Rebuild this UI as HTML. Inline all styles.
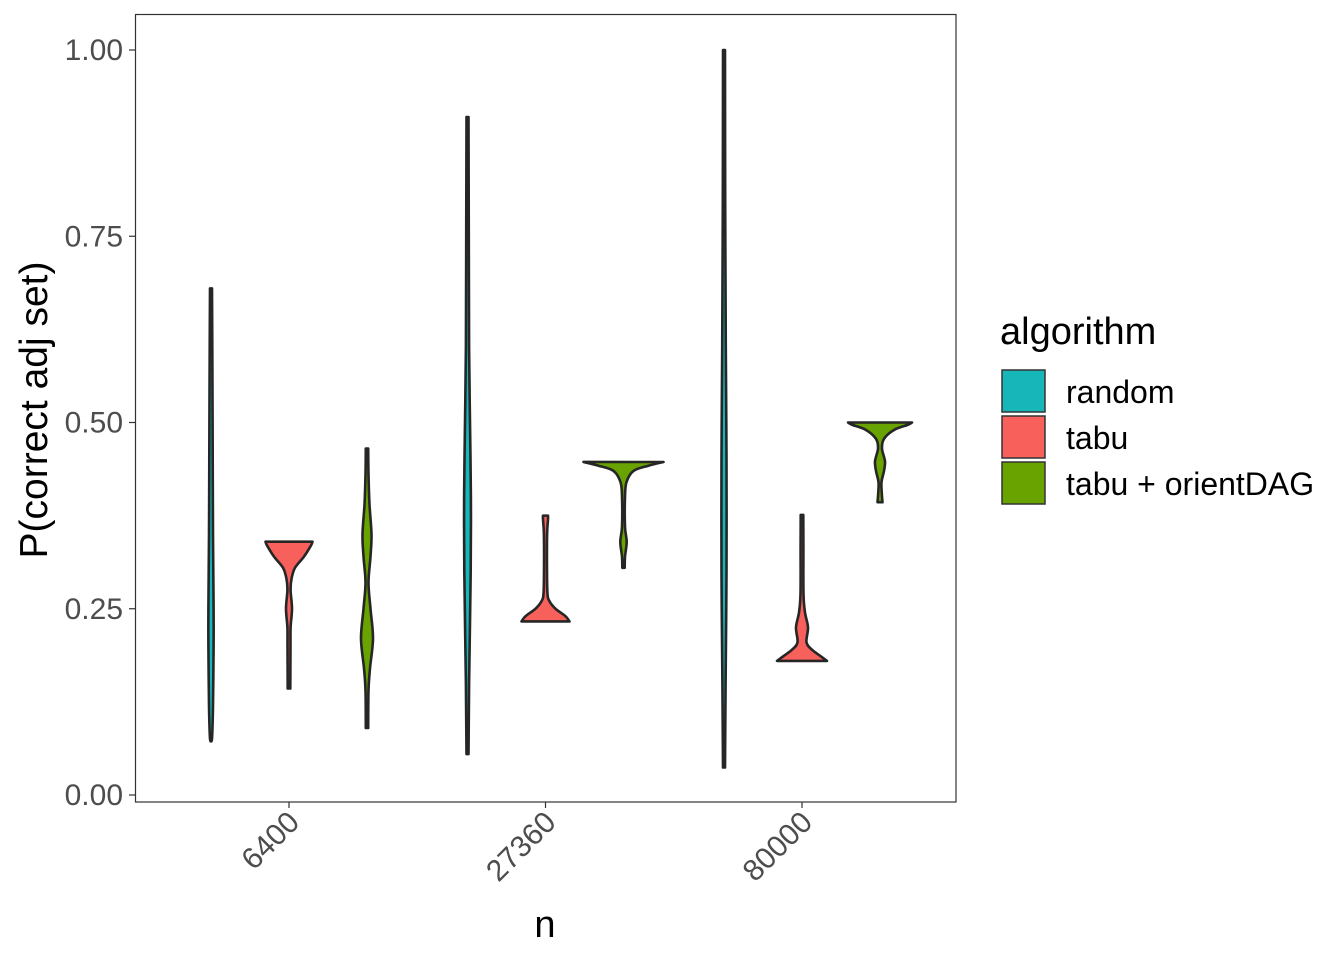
<!DOCTYPE html>
<html><head><meta charset="utf-8"><style>
body{margin:0;background:#fff}
svg{font-family:"Liberation Sans",Arial,sans-serif}
</style></head><body>
<svg width="1344" height="960" viewBox="0 0 1344 960">
<rect x="0" y="0" width="1344" height="960" fill="#fff"/>
<g id="marks"></g>
<rect x="135.5" y="14.5" width="820.5" height="787.5" fill="none" stroke="#333" stroke-width="1.2"/>
<g id="axes"></g>
<text x="0" y="0" transform="translate(47,410) rotate(-90)" text-anchor="middle" font-size="39" fill="#000">P(correct adj set)</text>
<text x="545" y="937" text-anchor="middle" font-size="38" fill="#000">n</text>
<g>
<text x="1000" y="344" font-size="38" fill="#000">algorithm</text>
<g><rect x="1002" y="370" width="43" height="42" fill="#17b6b9" stroke="#333" stroke-width="1.5"/><text x="1066" y="403" font-size="32">random</text></g>
<g><rect x="1002" y="416" width="43" height="42" fill="#f8605c" stroke="#333" stroke-width="1.5"/><text x="1066" y="449" font-size="32">tabu</text></g>
<g><rect x="1002" y="462" width="43" height="42" fill="#69a300" stroke="#333" stroke-width="1.5"/><text x="1066" y="495" font-size="32">tabu + orientDAG</text></g>
</g>
</svg>
<script>
const categories = ["6400","27360","80000"];
const algorithms = ["random","tabu","tabu + orientDAG"];
const colors = ["#17b6b9","#f8605c","#69a300"];
const yTicks = [0,0.25,0.5,0.75,1.0];
const yTickLabels = ["0.00","0.25","0.50","0.75","1.00"];
// violin profiles: [value, half-width density]
const v6400random = [[0.072,0.5],[0.08,1.2],[0.12,2],[0.2,2.6],[0.25,2.6],[0.35,2],[0.5,1.6],[0.6,1.3],[0.68,1]];
const v6400tabu = [[0.143,1.3],[0.2,1.5],[0.225,1.6],[0.25,3],[0.275,1.6],[0.29,2.5],[0.305,6],[0.32,15],[0.335,22],[0.34,23.5]];
const v6400orient = [[0.09,1.2],[0.14,1.5],[0.17,3],[0.21,6],[0.25,3.5],[0.285,1.5],[0.32,3.5],[0.35,4.5],[0.39,2.5],[0.43,1.5],[0.465,1.2]];
const v27360random = [[0.055,1],[0.15,1.6],[0.3,3.2],[0.4,3.4],[0.5,2.5],[0.6,1.6],[0.75,1.3],[0.91,1]];
const v27360tabu = [[0.233,24],[0.24,20],[0.25,10],[0.26,4],[0.27,2],[0.3,1.5],[0.35,1.6],[0.37,2.5],[0.375,2.5]];
const v27360orient = [[0.305,1.2],[0.32,1.5],[0.34,3.2],[0.36,1.5],[0.4,1.5],[0.42,3],[0.435,10],[0.442,25],[0.447,40]];
const v80000random = [[0.037,1],[0.15,1.6],[0.3,2.5],[0.45,2.5],[0.6,1.8],[0.8,1.2],[1.0,1]];
const v80000tabu = [[0.18,25],[0.185,20],[0.195,10],[0.205,4.5],[0.225,6],[0.245,3],[0.27,1.5],[0.33,1.4],[0.376,1.3]];
const v80000orient = [[0.393,2.5],[0.405,1.8],[0.42,1.5],[0.435,4],[0.448,5],[0.465,2],[0.478,4],[0.49,14],[0.497,28],[0.5,32]];
const violins = [[v6400random,v6400tabu,v6400orient],[v27360random,v27360tabu,v27360orient],[v80000random,v80000tabu,v80000orient]];

const NS="http://www.w3.org/2000/svg";
const yScale = v => 795 - v*745;
const xCenter = i => 289 + i*256.5;
const dodge = j => (j-1)*78;

function smoothSide(pts){
  let d="";
  for(let i=0;i<pts.length-1;i++){
    const p0=pts[Math.max(0,i-1)],p1=pts[i],p2=pts[i+1],p3=pts[Math.min(pts.length-1,i+2)];
    const c1=[p1[0]+(p2[0]-p0[0])/6,p1[1]+(p2[1]-p0[1])/6];
    const c2=[p2[0]-(p3[0]-p1[0])/6,p2[1]-(p3[1]-p1[1])/6];
    d+=` C${c1[0].toFixed(2)},${c1[1].toFixed(2)} ${c2[0].toFixed(2)},${c2[1].toFixed(2)} ${p2[0].toFixed(2)},${p2[1].toFixed(2)}`;
  }
  return d;
}
const marks=document.getElementById('marks');
violins.forEach((grp,i)=>grp.forEach((prof,j)=>{
  const cx=xCenter(i)+dodge(j);
  const right=prof.map(p=>[cx+p[1],yScale(p[0])]);
  const left=prof.slice().reverse().map(p=>[cx-p[1],yScale(p[0])]);
  let d=`M${right[0][0]},${right[0][1]}`+smoothSide(right)+` L${left[0][0]},${left[0][1]}`+smoothSide(left)+" Z";
  const path=document.createElementNS(NS,'path');
  path.setAttribute('d',d);
  path.setAttribute('fill',colors[j]);
  path.setAttribute('stroke','#262626');
  path.setAttribute('stroke-width','2.6');
  path.setAttribute('stroke-linejoin','round');
  
  
  marks.appendChild(path);
}));
const axes=document.getElementById('axes');
yTicks.forEach((t,k)=>{
  const y=yScale(t);
  const l=document.createElementNS(NS,'line');
  l.setAttribute('x1',129);l.setAttribute('x2',135);l.setAttribute('y1',y);l.setAttribute('y2',y);
  l.setAttribute('stroke','#333');l.setAttribute('stroke-width','1.2');
  
  
  axes.appendChild(l);
  const tx=document.createElementNS(NS,'text');
  tx.setAttribute('x',123);tx.setAttribute('y',y+10);tx.setAttribute('text-anchor','end');
  tx.setAttribute('font-size','30');tx.setAttribute('fill','#4d4d4d');
  tx.textContent=yTickLabels[k];
  
  
  axes.appendChild(tx);
});
categories.forEach((c,i)=>{
  const x=xCenter(i);
  const l=document.createElementNS(NS,'line');
  l.setAttribute('x1',x);l.setAttribute('x2',x);l.setAttribute('y1',802);l.setAttribute('y2',808);
  l.setAttribute('stroke','#333');l.setAttribute('stroke-width','1.2');
  
  
  axes.appendChild(l);
  const tx=document.createElementNS(NS,'text');
  tx.setAttribute('transform',`translate(${x+12},${824}) rotate(-45)`);
  tx.setAttribute('text-anchor','end');
  tx.setAttribute('font-size','30');tx.setAttribute('fill','#4d4d4d');
  tx.textContent=c;
  
  
  axes.appendChild(tx);
});
</script>
</body></html>
